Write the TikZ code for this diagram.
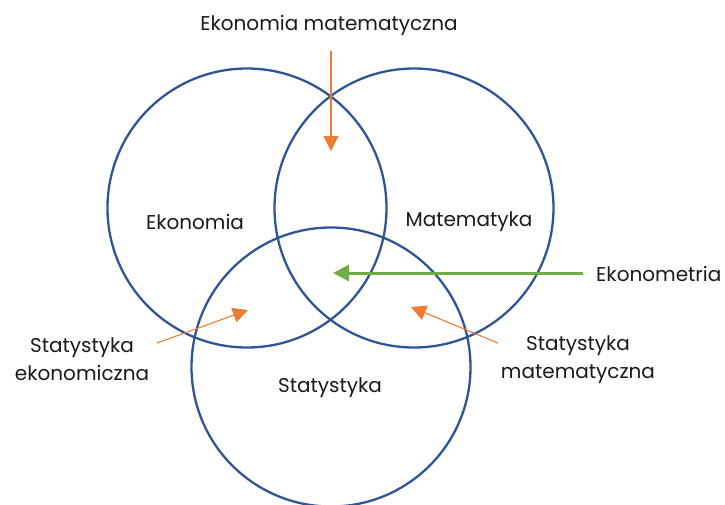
\documentclass[tikz,border=0pt]{standalone}
\usepackage{fontspec}
\setmainfont{Poppins}
\usetikzlibrary{arrows.meta,positioning}
\definecolor{setblue}{HTML}{2F5597}
\definecolor{pointer}{HTML}{ED7D31}
\definecolor{core}{HTML}{70AD47}
\definecolor{ink}{HTML}{1A1A1A}

\begin{document}
\begin{tikzpicture}[x=1pt,y=-1pt,
  field/.style={circle,draw=setblue,line width=2.3pt,minimum size=279pt,inner sep=0pt},
  lbl/.style={text=ink,font=\fontsize{20}{28}\selectfont,align=center,inner sep=0pt},
  tag/.style={draw=pointer,line width=1.1pt,-{Triangle[length=15pt,width=15pt]}},
  mainarrow/.style={draw=core,line width=3pt,-{Triangle[length=16pt,width=16pt]}}]
 \useasboundingbox(0,0)rectangle(725,504);
 % three fields
 \node[field](eko)at(247,208){};
 \node[field](mat)at(414,208){};
 \node[field](sta)at(331,367){};
 \node[lbl](ekot)at(195,222){Ekonomia};
 \node[lbl](matt)at(469,222){Matematyka};
 \node[lbl](stat)at(330,388){Statystyka};
 % overlap labels
 \node[lbl](emat)at(329,25){Ekonomia matematyczna};
 \node[lbl,anchor=west](emet)at(596,274){Ekonometria};
 \node[lbl](seko)at(82,359){Statystyka\\ekonomiczna};
 \node[lbl](smat)at(578,360){Statystyka\\matematyczna};
 \coordinate(emat-s)at(331,51);  \coordinate(emat-t)at(331,151);
 \coordinate(emet-s)at(583,273); \coordinate(emet-t)at(333,273);
 \coordinate(seko-s)at(157,343); \coordinate(seko-t)at(248,310);
 \coordinate(smat-s)at(498,343); \coordinate(smat-t)at(411,307);
 \draw[tag](emat-s)--(emat-t);
 \draw[tag](seko-s)--(seko-t);
 \draw[tag](smat-s)--(smat-t);
 \draw[mainarrow](emet-s)--(emet-t);
\end{tikzpicture}
\end{document}
